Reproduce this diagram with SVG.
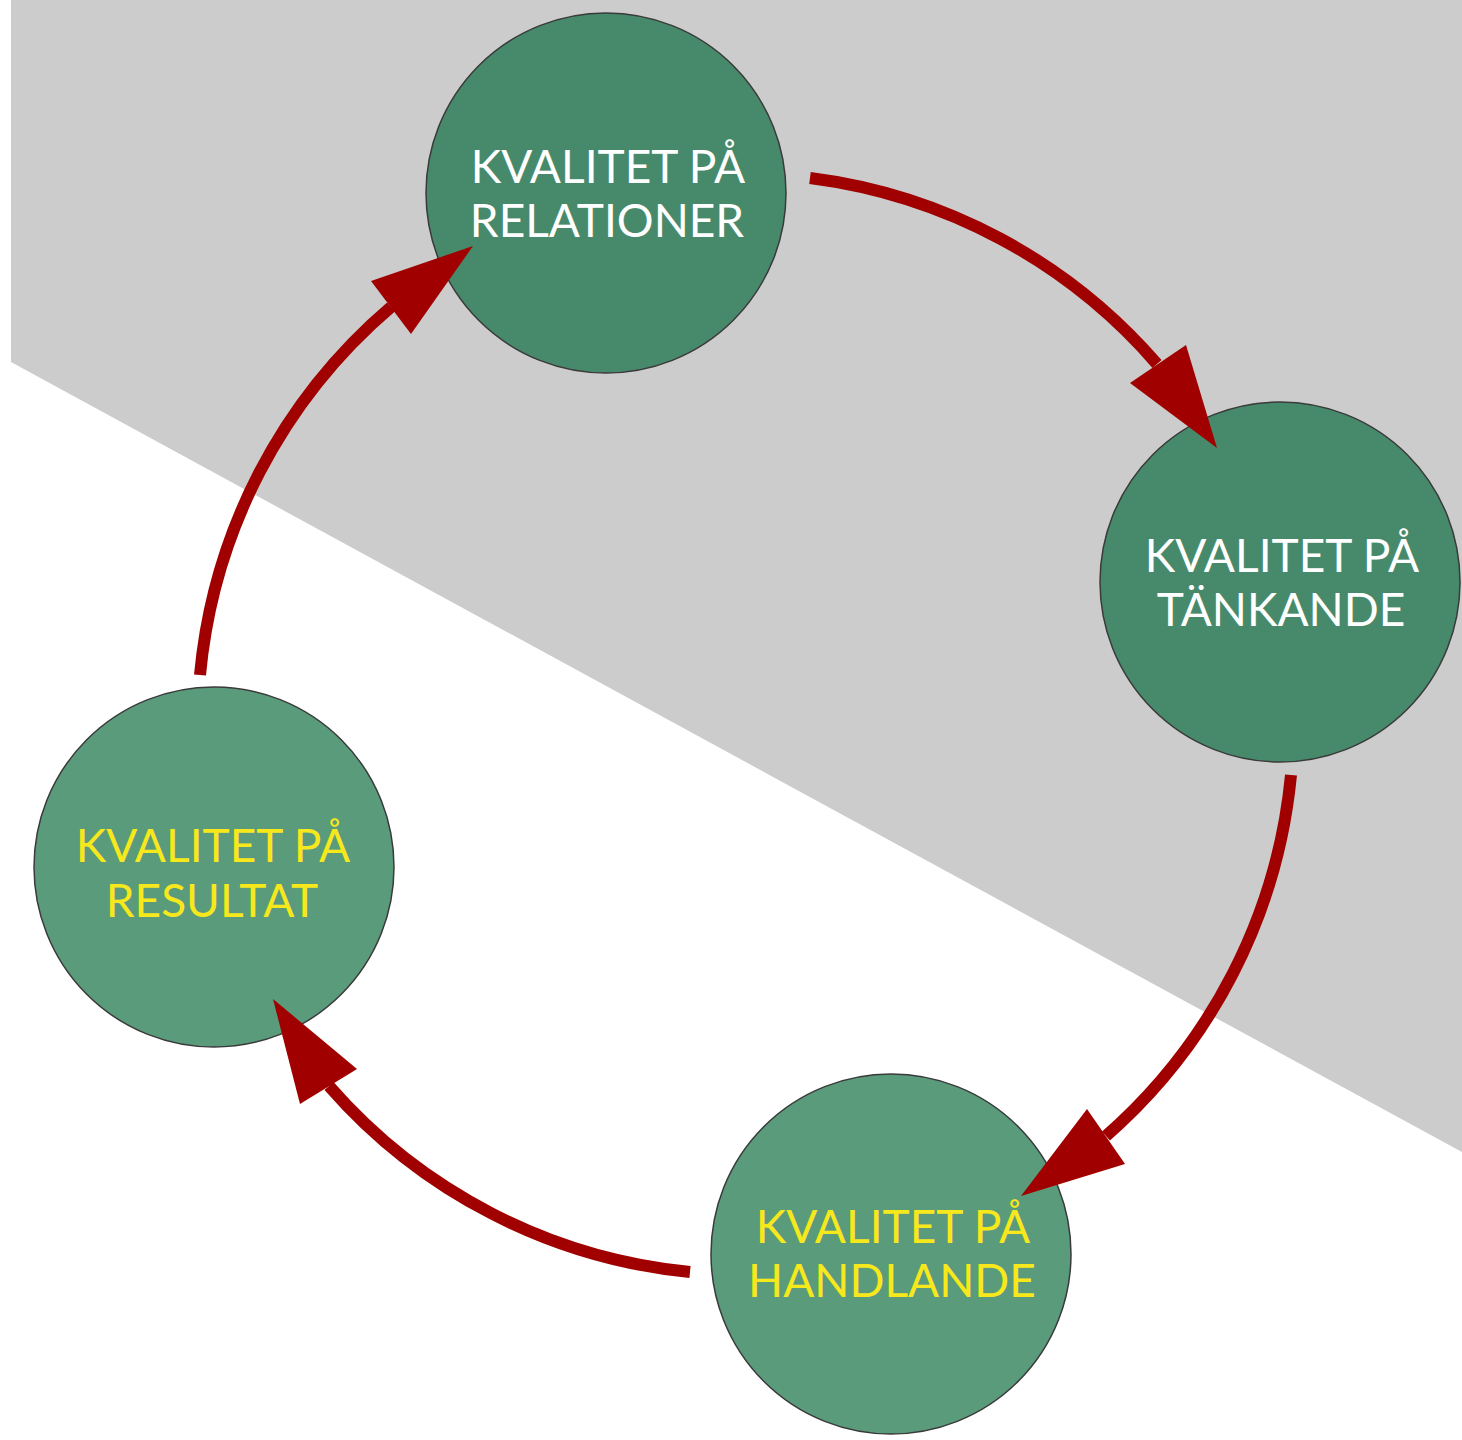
<svg xmlns="http://www.w3.org/2000/svg" width="1462" height="1440" viewBox="0 0 1462 1440">
<style>
.bg{fill:#cccccc}
.node{stroke:#3a3a3a;stroke-width:1.5}
.dark{fill:#478a6b}
.light{fill:#5a9b7c}
.lbl{font-family:Lato,"Open Sans",sans-serif;font-size:46px;text-anchor:middle}
.w{fill:#ffffff}
.y{fill:#f7e81c}
.arc{fill:none;stroke:#a00000;stroke-width:12}
.head{fill:#a00000}
</style>
<rect width="1462" height="1440" fill="#ffffff"/>
<polygon class="bg" points="11,0 1462,0 1462,1152 11,362"/>
<g id="n1">
<circle class="node dark" cx="606" cy="193" r="180"/>
<text class="lbl w" x="608" y="183">KVALITET PÅ</text>
<text class="lbl w" x="607" y="237">RELATIONER</text>
</g>
<g id="n2">
<circle class="node dark" cx="1280" cy="582" r="180"/>
<text class="lbl w" x="1282" y="572">KVALITET PÅ</text>
<text class="lbl w" x="1281" y="626">TÄNKANDE</text>
</g>
<g id="n3">
<circle class="node light" cx="891" cy="1254" r="180"/>
<text class="lbl y" x="893" y="1243">KVALITET PÅ</text>
<text class="lbl y" x="892" y="1297">HANDLANDE</text>
</g>
<g id="n4">
<circle class="node light" cx="214" cy="867" r="180"/>
<text class="lbl y" x="213" y="862">KVALITET PÅ</text>
<text class="lbl y" x="212" y="917">RESULTAT</text>
</g>
<g id="connectors">
<path class="arc" d="M810,178 A550,550 0 0 1 1157,364"/>
<polygon class="head" points="1130,383 1186,345 1217,448"/>
<path class="arc" d="M1291,775 A550,550 0 0 1 1106,1136"/>
<polygon class="head" points="1087,1109 1125,1164 1021,1196"/>
<path class="arc" d="M690,1272 A550,550 0 0 1 329,1086"/>
<polygon class="head" points="357,1069 300,1104 273,999"/>
<path class="arc" d="M200,675 A550,550 0 0 1 391,307"/>
<polygon class="head" points="371,281 411,334 473,246"/>
</g>
</svg>
